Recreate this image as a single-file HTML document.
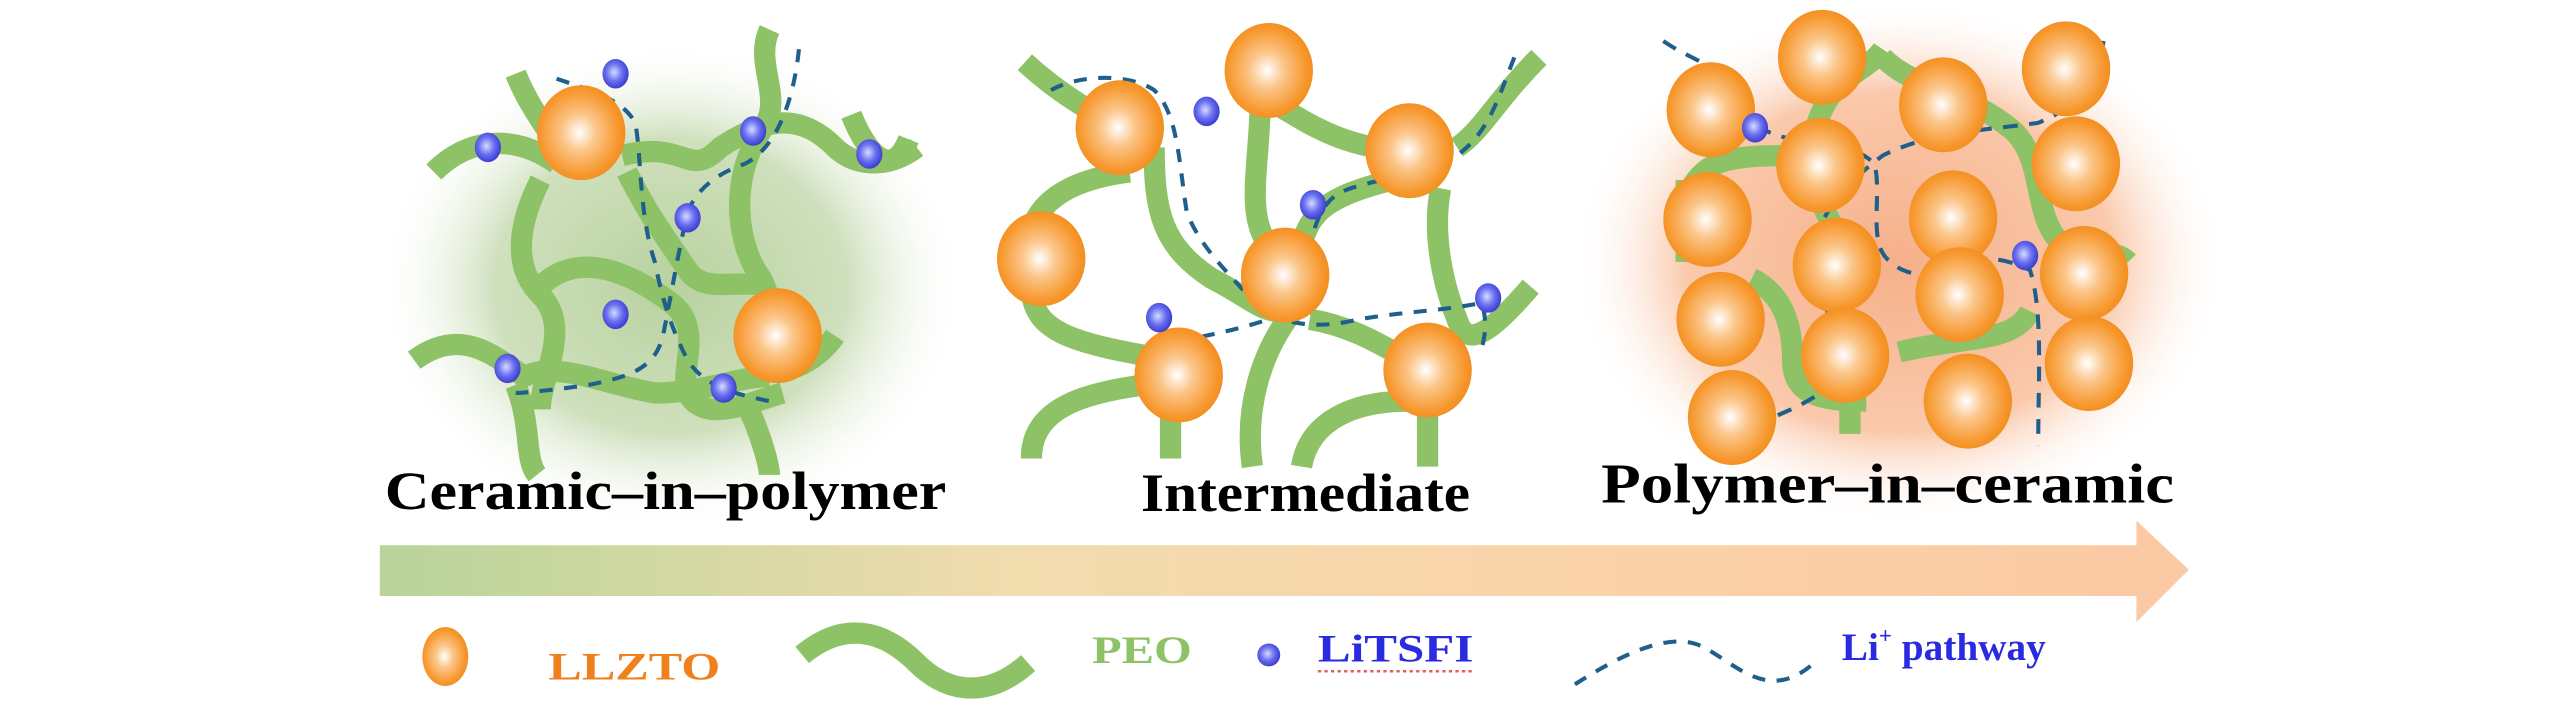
<!DOCTYPE html>
<html><head><meta charset="utf-8"><style>
html,body{margin:0;padding:0;background:#fff;}
svg{display:block;}
text{font-family:"Liberation Serif",serif;font-weight:bold;}
</style></head><body>
<svg width="2567" height="709" viewBox="0 0 1568 433" xmlns="http://www.w3.org/2000/svg">
<defs>
<radialGradient id="or" cx="0.48" cy="0.5" r="0.55">
<stop offset="0" stop-color="#ffffff"/><stop offset="0.35" stop-color="#fbc68a"/><stop offset="0.8" stop-color="#f7982e"/><stop offset="1" stop-color="#ee8a1a"/></radialGradient>
<radialGradient id="bl" cx="0.45" cy="0.45" r="0.6">
<stop offset="0" stop-color="#d6dcff"/><stop offset="0.5" stop-color="#6a70f0"/><stop offset="1" stop-color="#3434c8"/></radialGradient>
<radialGradient id="gg" cx="0.5" cy="0.5" r="0.5">
<stop offset="0" stop-color="#b9d2a0"/><stop offset="0.6" stop-color="#cfe0bd"/><stop offset="1" stop-color="#ffffff" stop-opacity="0"/></radialGradient>
<radialGradient id="og" cx="0.5" cy="0.5" r="0.5">
<stop offset="0" stop-color="#f6b08a"/><stop offset="0.65" stop-color="#fac9ab"/><stop offset="1" stop-color="#ffffff" stop-opacity="0"/></radialGradient>
<linearGradient id="ar" x1="0" x2="1" y1="0" y2="0">
<stop offset="0" stop-color="#b8d49a"/><stop offset="0.35" stop-color="#f1dcae"/><stop offset="0.7" stop-color="#fbd2a8"/><stop offset="1" stop-color="#fbc9a3"/></linearGradient>
<g id="O"><ellipse rx="27" ry="29" fill="url(#or)"/></g>
<g id="B"><ellipse rx="8" ry="9" fill="url(#bl)"/></g>
</defs>

<!-- Panel 1 -->
<ellipse cx="410" cy="175" rx="180" ry="150" fill="url(#gg)"/>
<g fill="none" stroke="#8ec266" stroke-width="13" stroke-linecap="butt">
<path d="M315 45 C325 70 340 85 350 105"/>
<path d="M265 105 C290 80 320 85 340 100"/>
<path d="M330 110 C320 130 310 160 330 180 C350 200 330 230 330 250"/>
<path d="M380 95 C420 85 420 110 440 90 C470 70 490 70 510 90 C520 100 540 105 560 90"/>
<path d="M470 18 C460 40 480 60 465 80 C445 110 450 150 465 170 C475 190 470 200 470 210"/>
<path d="M383 105 C395 130 410 150 420 165 C430 180 450 170 470 175"/>
<path d="M330 175 C355 150 390 170 410 185 C430 200 415 225 420 240 C430 260 460 245 478 240"/>
<path d="M253 220 C280 200 300 215 320 230 C340 220 370 235 400 240 C430 240 450 230 470 230"/>
<path d="M315 235 C325 260 320 280 328 290"/>
<path d="M510 205 C500 220 480 230 470 225"/>
<path d="M455 245 C465 265 470 285 470 290"/>
<path d="M520 70 C530 95 545 110 555 85"/>
</g>
<g fill="none" stroke="#1f5f8b" stroke-width="2.5" stroke-dasharray="8 7">
<path d="M340 48 C360 55 380 60 388 75 C392 95 390 130 400 160 C405 185 410 200 420 220 C430 235 445 240 470 245"/>
<path d="M488 30 C485 60 475 90 455 100 C440 105 425 115 420 130 C415 150 410 180 405 205 C400 225 385 230 360 235 C340 238 320 240 315 240"/>
</g>
<use href="#O" x="355" y="81"/><use href="#O" x="475" y="205"/>
<use href="#B" x="376" y="45"/><use href="#B" x="298" y="90"/><use href="#B" x="460" y="80"/><use href="#B" x="531" y="94"/><use href="#B" x="420" y="133"/><use href="#B" x="376" y="192"/><use href="#B" x="310" y="225"/><use href="#B" x="442" y="237"/>

<!-- Panel 2 -->
<g fill="none" stroke="#8ec266" stroke-width="13">
<path d="M626 38 C650 60 670 70 690 80"/>
<path d="M705 90 C705 130 710 150 740 170 C760 180 770 190 780 190"/>
<path d="M690 105 C650 110 635 125 630 140"/>
<path d="M630 175 C630 205 660 210 715 220"/>
<path d="M715 250 L715 280"/>
<path d="M700 235 C660 240 630 250 630 280"/>
<path d="M770 55 C770 100 760 130 775 150"/>
<path d="M790 190 C770 215 760 250 765 285"/>
<path d="M800 195 C830 200 850 215 870 225"/>
<path d="M860 245 C830 245 800 255 795 285"/>
<path d="M872 250 L872 285"/>
<path d="M755 48 C790 70 810 85 840 90"/>
<path d="M850 110 C810 120 800 130 795 150"/>
<path d="M940 35 C915 60 905 80 890 90"/>
<path d="M880 115 C875 140 880 170 890 195 C895 210 905 210 935 175"/>
</g>
<g fill="none" stroke="#1f5f8b" stroke-width="2.5" stroke-dasharray="8 7">
<path d="M642 55 C660 45 690 45 705 55 C720 70 720 100 725 130 C735 155 755 170 770 190 C790 200 810 200 830 195 C860 190 880 190 905 185 C910 200 905 210 905 215"/>
<path d="M925 35 C915 60 910 80 890 95 C870 105 840 110 825 115 C810 120 805 130 800 150 C795 165 785 180 775 195 C760 200 740 205 710 210"/>
</g>
<use href="#O" x="775" y="43"/><use href="#O" x="684" y="78"/><use href="#O" x="861" y="92"/><use href="#O" x="636" y="158"/><use href="#O" x="785" y="168"/><use href="#O" x="720" y="229"/><use href="#O" x="872" y="226"/>
<use href="#B" x="737" y="68"/><use href="#B" x="802" y="125"/><use href="#B" x="708" y="194"/><use href="#B" x="909" y="182"/>

<!-- Panel 3 -->
<ellipse cx="1160" cy="160" rx="200" ry="160" fill="url(#og)"/>
<g fill="none" stroke="#8ec266" stroke-width="13">
<path d="M1140 155 C1120 150 1100 110 1110 75 C1120 45 1140 45 1150 30"/>
<path d="M1150 35 C1170 55 1200 55 1230 80 C1250 100 1240 130 1260 150 C1280 160 1290 150 1300 160"/>
<path d="M1090 95 C1050 95 1040 100 1030 120"/>
<path d="M1030 110 L1030 160"/>
<path d="M1070 170 C1090 180 1095 200 1095 220 C1095 240 1110 245 1140 245"/>
<path d="M1130 235 L1130 265"/>
<path d="M1160 215 C1200 205 1230 210 1240 190"/>
</g>
<g fill="none" stroke="#1f5f8b" stroke-width="2.5" stroke-dasharray="9 7">
<path d="M1016 25 C1030 35 1050 40 1060 55 C1065 70 1070 80 1095 85 C1120 88 1135 90 1145 100 C1150 120 1140 150 1155 160 C1165 170 1185 170 1200 160 C1215 155 1230 160 1240 165 C1248 190 1245 230 1245 272"/>
<path d="M1285 25 C1280 50 1270 65 1245 75 C1210 80 1180 80 1150 95 C1130 110 1110 130 1110 150 C1110 180 1120 200 1125 215 C1125 240 1100 250 1040 270"/>
</g>
<use href="#O" x="1113" y="35"/><use href="#O" x="1262" y="42"/><use href="#O" x="1045" y="67"/><use href="#O" x="1187" y="64"/><use href="#O" x="1268" y="100"/><use href="#O" x="1112" y="101"/><use href="#O" x="1043" y="134"/><use href="#O" x="1193" y="133"/><use href="#O" x="1122" y="162"/><use href="#O" x="1051" y="195"/><use href="#O" x="1197" y="180"/><use href="#O" x="1273" y="167"/><use href="#O" x="1127" y="217"/><use href="#O" x="1276" y="222"/><use href="#O" x="1058" y="255"/><use href="#O" x="1202" y="245"/>
<use href="#B" x="1072" y="78"/><use href="#B" x="1237" y="156"/>

<!-- Titles -->
<text x="235" y="311" font-size="33" textLength="343" lengthAdjust="spacingAndGlyphs" fill="#000">Ceramic–in–polymer</text>
<text x="697" y="312" font-size="33" textLength="201" lengthAdjust="spacingAndGlyphs" fill="#000">Intermediate</text>
<text x="978" y="307" font-size="34" textLength="350" lengthAdjust="spacingAndGlyphs" fill="#000">Polymer–in–ceramic</text>

<!-- Arrow -->
<path d="M232 333 L1305 333 L1305 318 L1337 348 L1305 380 L1305 364 L232 364 Z" fill="url(#ar)"/>

<!-- Legend -->
<ellipse cx="272" cy="401" rx="14" ry="18" fill="url(#or)"/>
<text x="335" y="415" font-size="24" textLength="105" lengthAdjust="spacingAndGlyphs" fill="#f07f1d">LLZTO</text>
<path d="M490 400 C520 375 545 390 560 405 C575 420 600 430 628 405" fill="none" stroke="#8ec266" stroke-width="13"/>
<text x="667" y="405" font-size="24" textLength="61" lengthAdjust="spacingAndGlyphs" fill="#8ec266">PEO</text>
<circle cx="775" cy="400" r="7" fill="url(#bl)"/>
<text x="805" y="404" font-size="24" textLength="95" lengthAdjust="spacingAndGlyphs" fill="#2a2ae0">LiTSFI</text>
<path d="M805 410 L900 410" stroke="#e06060" stroke-width="1.5" stroke-dasharray="2 2"/>
<path d="M962 418 C990 400 1020 385 1040 395 C1060 405 1080 430 1108 405" fill="none" stroke="#1f5f8b" stroke-width="2.5" stroke-dasharray="8 7"/>
<text x="1125" y="403" font-size="24" fill="#2a2ae0">Li<tspan font-size="14" dy="-10">+</tspan><tspan dy="10"> pathway</tspan></text>
</svg>
</body></html>
